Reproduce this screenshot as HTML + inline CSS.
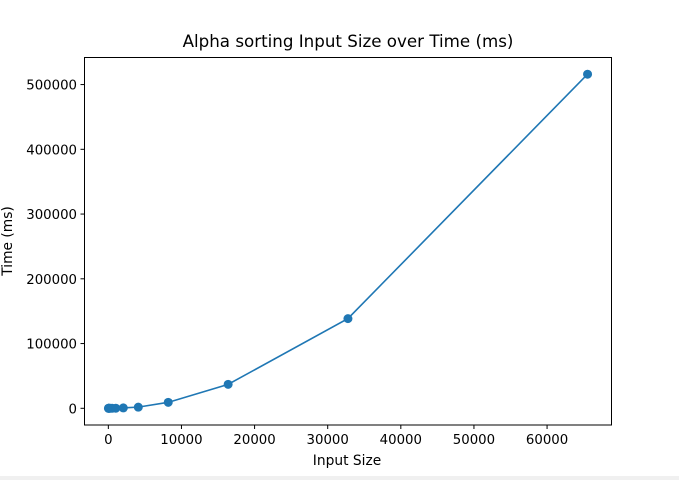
<!DOCTYPE html>
<html><head><meta charset="utf-8"><style>
body{margin:0;background:#fff;width:679px;height:480px;overflow:hidden;font-family:"Liberation Sans","DejaVu Sans",sans-serif}
</style></head><body>
<svg id="chart" width="679" height="480" xmlns="http://www.w3.org/2000/svg" font-family="DejaVu Sans, Liberation Sans, sans-serif">
<rect x="0" y="0" width="679" height="480" fill="#fff"/>
<rect x="0" y="476" width="679" height="4" fill="#f0f0f0"/>
<text x="348" y="47" font-size="16.7" text-anchor="middle" fill="#000">Alpha sorting Input Size over Time (ms)</text>
<g id="ticks"></g>
<g id="series"></g>
<rect x="84.5" y="57.5" width="527" height="367.5" fill="none" stroke="#000" stroke-width="1"/>
<text x="347" y="465" font-size="13.8" text-anchor="middle">Input Size</text>
<text transform="translate(12,241) rotate(-90)" font-size="13.8" text-anchor="middle">Time (ms)</text>
</svg>
<script>
const inputSizes=[16,32,64,128,256,512,1024,2048,4096,8192,16384,32768,65536];
const timesMs=[1,2,4,8,20,50,150,600,1800,9200,37000,138500,516000];
const xTicks=[0,10000,20000,30000,40000,50000,60000];
const yTicks=[0,100000,200000,300000,400000,500000];
const L=84.5,R=611.5,T=57.5,B=425;
const xmin0=Math.min(...inputSizes),xmax0=Math.max(...inputSizes);
const xm=(xmax0-xmin0)*0.05,xlo=xmin0-xm,xhi=xmax0+xm;
const ymin0=Math.min(...timesMs),ymax0=Math.max(...timesMs);
const ym=(ymax0-ymin0)*0.05,ylo=ymin0-ym,yhi=ymax0+ym;
const sx=v=>L+(v-xlo)/(xhi-xlo)*(R-L);
const sy=v=>B-(v-ylo)/(yhi-ylo)*(B-T);
const NS="http://www.w3.org/2000/svg";
const tg=document.getElementById('ticks'),sg=document.getElementById('series');
function mk(tag,attrs,parent){const e=document.createElementNS(NS,tag);for(const k in attrs)e.setAttribute(k,attrs[k]);parent.appendChild(e);return e;}
xTicks.forEach(t=>{const x=sx(t);
const l=mk('line',{x1:x,x2:x,y1:B,y2:B+4,stroke:'#000'},tg);


const tx=mk('text',{x:x,y:B+19,'font-size':13.3,'text-anchor':'middle'},tg);tx.textContent=t;

});
yTicks.forEach(t=>{const y=sy(t);
const l=mk('line',{x1:L-4,x2:L,y1:y,y2:y,stroke:'#000'},tg);


const tx=mk('text',{x:L-7.5,y:y+5,'font-size':13.3,'text-anchor':'end'},tg);tx.textContent=t;

});
const pts=inputSizes.map((v,i)=>sx(v)+','+sy(timesMs[i])).join(' ');
const pl=mk('polyline',{points:pts,fill:'none',stroke:'#1f77b4','stroke-width':1.6},sg);


inputSizes.forEach((v,i)=>{const c=mk('circle',{cx:sx(v),cy:sy(timesMs[i]),r:4.5,fill:'#1f77b4'},sg);

});
</script>
</body></html>
